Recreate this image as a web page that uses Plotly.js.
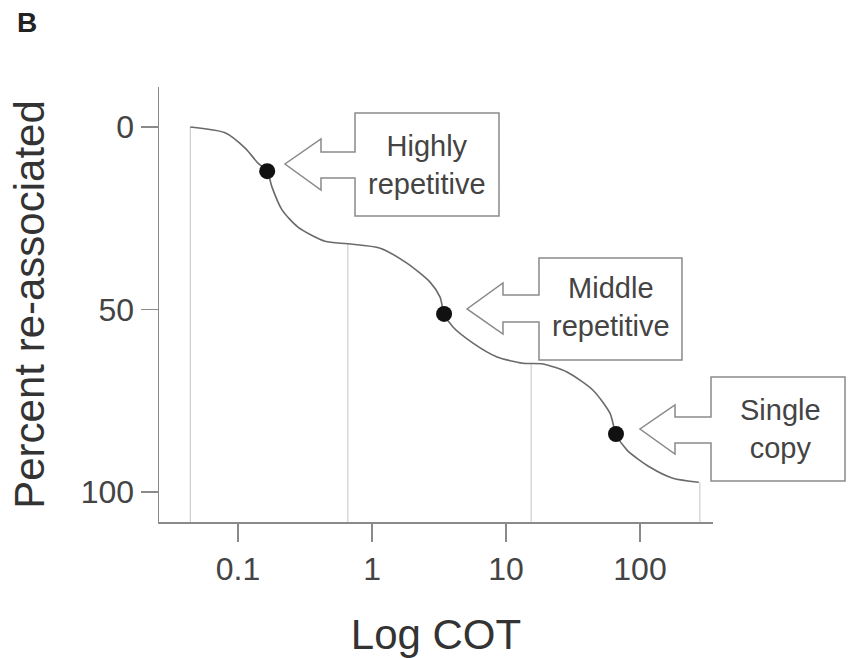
<!DOCTYPE html>
<html>
<head>
<meta charset="utf-8">
<script src="https://cdn.plot.ly/plotly-3.0.1.min.js"></script>
<style>html,body{margin:0;padding:0;background:#fff;}#chart{width:848px;height:658px;}</style>
</head>
<body>
<div id="chart"></div>
<script>
// Re-association curve (x = Cot, y = percent re-associated)
const curveX = [0.044, 0.080, 0.113, 0.141, 0.165, 0.179, 0.213, 0.280, 0.446, 0.66, 1.15, 1.82, 2.71, 3.22, 3.45, 4.02, 5.67, 8.57, 13.4, 18.9, 28.5, 44.6, 59.7, 66.2, 80.0, 119, 176, 275];
const curveY = [0, 1.6, 5.8, 9.9, 12.1, 16.4, 22.7, 27.4, 31.3, 32.0, 33.2, 37.3, 42.5, 46.6, 51.2, 54.8, 59.2, 63.0, 64.7, 64.9, 67.1, 72.1, 78.4, 84.1, 88.5, 93.2, 96.2, 97.3];
// Marked midpoints of each class
const dotX = [0.165, 3.45, 66.2];
const dotY = [12.1, 51.2, 84.1];
const dotLabels = ["Highly<br>repetitive", "Middle<br>repetitive", "Single<br>copy"];
// Drop lines from curve to axis
const dropX = [0.044, 0.66, 15.4, 280];
const dropY = [0, 32.0, 64.8, 97.3];
const xTicks = [0.1, 1, 10, 100];
const xTickText = ["0.1", "1", "10", "100"];
const yTicks = [0, 50, 100];
const yTickText = ["0", "50", "100"];

const Y_BOTTOM = 108.2, Y_TOP = -10.96;

const traces = [];
dropX.forEach((x, i) => {
  traces.push({x: [x, x], y: [dropY[i], Y_BOTTOM], mode: 'lines', type: 'scatter',
    line: {color: '#c4c4c4', width: 1}, hoverinfo: 'skip', showlegend: false});
});
traces.push({x: curveX, y: curveY, mode: 'lines', type: 'scatter',
  line: {color: '#6a6a6a', width: 1.6, shape: 'spline', smoothing: 0.7}, showlegend: false});
traces.push({x: dotX, y: dotY, mode: 'markers', type: 'scatter',
  marker: {color: '#111', size: 16}, text: dotLabels, showlegend: false});

// plot area pixels: x 159..713, y 87..522
const L = 159, R = 713, T = 87, B = 522;
const px = v => ((v - L) / (R - L)).toFixed(4);
const py = v => ((B - v) / (B - T)).toFixed(4);
function arrowBox(pts) {
  return 'M ' + pts.map(p => px(p[0]) + ',' + py(p[1])).join(' L ') + ' Z';
}
const boxes = [
  [[355,113],[499,113],[499,216],[355,216],[355,178],[321,178],[321,190],[285,164],[321,139],[321,152],[355,152]],
  [[539,258],[682,258],[682,360],[539,360],[539,322],[503,322],[503,334],[467,309],[503,283],[503,295],[539,295]],
  [[711,377],[845,377],[845,481],[711,481],[711,443],[675,443],[675,454],[640,429],[675,405],[675,417],[711,417]]
];
const shapes = boxes.map(b => ({type: 'path', xref: 'paper', yref: 'paper', path: arrowBox(b),
  line: {color: '#8a8a8a', width: 1.5}, fillcolor: '#ffffff', layer: 'above'}));

const boxText = [[427, 165], [611, 307], [781, 429]];
const annotations = boxText.map((c, i) => ({xref: 'paper', yref: 'paper', x: px(c[0]), y: py(c[1]),
  xanchor: 'center', yanchor: 'middle', text: dotLabels[i], showarrow: false, align: 'center',
  font: {family: 'Liberation Sans, Arial, sans-serif', size: 29, color: '#444'}}));
annotations.push({xref: 'paper', yref: 'paper', x: px(27), y: py(22), xanchor: 'center', yanchor: 'middle',
  text: '<b>B</b>', showarrow: false, font: {family: 'Liberation Sans, Arial, sans-serif', size: 28, color: '#222'}});

const layout = {
  width: 848, height: 658,
  margin: {l: L, r: 848 - R, t: T, b: 658 - B, pad: 0},
  paper_bgcolor: '#fff', plot_bgcolor: '#fff',
  showlegend: false,
  font: {family: 'Liberation Sans, Arial, sans-serif', color: '#444'},
  xaxis: {type: 'log', range: [-1.590, 2.545], tickvals: xTicks, ticktext: xTickText,
    ticks: 'outside', ticklen: 18, tickwidth: 1.5, tickcolor: '#8a8a8a',
    showline: true, linecolor: '#8a8a8a', linewidth: 1.5, showgrid: false, zeroline: false,
    tickfont: {size: 32, color: '#444'},
    title: {text: 'Log COT', font: {size: 42, color: '#333'}, standoff: 33}},
  yaxis: {range: [Y_BOTTOM, Y_TOP], tickvals: yTicks, ticktext: yTickText,
    ticks: 'outside', ticklen: 17, tickwidth: 1.5, tickcolor: '#8a8a8a',
    showline: true, linecolor: '#8a8a8a', linewidth: 1.5, showgrid: false, zeroline: false,
    tickfont: {size: 32, color: '#444'},
    title: {text: 'Percent re-associated', font: {size: 42, color: '#333'}, standoff: 23}},
  shapes: shapes,
  annotations: annotations
};
Plotly.newPlot('chart', traces, layout, {displayModeBar: false, staticPlot: true});
</script>
</body>
</html>
